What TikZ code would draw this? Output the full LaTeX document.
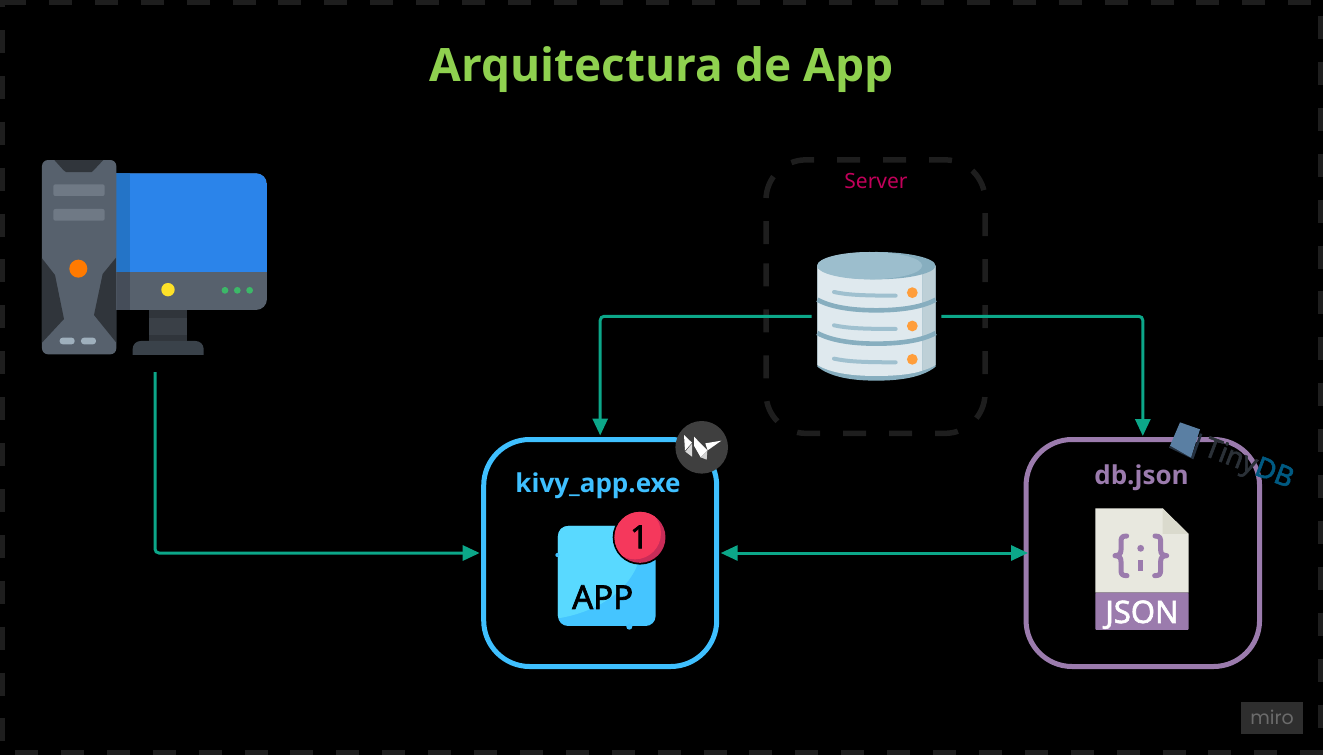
\documentclass[tikz,border=0pt]{standalone}
\usepackage{fontspec}
\setmainfont{Open Sans}
\newfontfamily\notofont{Noto Sans}
\newfontfamily\notoheavy{Noto Sans}[FakeBold=2]
\newfontfamily\mirofont{Poppins}
\usetikzlibrary{arrows.meta}
\definecolor{titlegreen}{HTML}{8FD14F}
\definecolor{kivyblue}{HTML}{3FC0FF}
\definecolor{jsonpurple}{HTML}{9B7BAD}
\definecolor{linkgreen}{HTML}{0CA789}
\definecolor{dashgrey}{HTML}{1E1E1E}
\definecolor{servertext}{HTML}{C2005A}
\definecolor{pcgrey}{HTML}{57616D}
\definecolor{pcdark}{HTML}{30353B}
\definecolor{dbpale}{HTML}{DFE9EE}
\definecolor{dbside}{HTML}{BED0D7}
\definecolor{dbtop}{HTML}{9CBECD}
\definecolor{dbband}{HTML}{87AEBF}
\definecolor{dborange}{HTML}{FF9E3B}
\tikzset{
  txt/.style={inner sep=0pt,anchor=base},
  link/.style={draw=linkgreen,line width=3pt,rounded corners=4pt},
  tip/.style={-{Triangle[length=17pt,width=15pt]}},
  bitips/.style={{Triangle[length=17pt,width=15pt]}-{Triangle[length=17pt,width=15pt]}},
  appbox/.style={draw,line width=5pt,rounded corners=46pt,fill=black,inner sep=0pt},
  edge dash/.style={draw=dashgrey,line width=5.5pt,dash pattern=on 23pt off 22.9pt},
}
\begin{document}
\begin{tikzpicture}[x=1pt,y=-1pt]
\useasboundingbox (0,0) rectangle (1323,755);
\clip (0,0) rectangle (1323,755);
\fill[black] (0,0) rectangle (1323,755);
% canvas border
\draw[edge dash] (3,2.5) -- (1323,2.5);
\draw[edge dash] (15,752.5) -- (1323,752.5);
\draw[edge dash] (2.5,-16) -- (2.5,755);
\draw[edge dash] (1320.5,16) -- (1320.5,755);
% title
\node[txt,text=titlegreen,font=\fontsize{46}{50}\selectfont\bfseries] (title) at (661.5,81) {Arquitectura de App};
% server frame
\node[outer sep=0pt,minimum width=219pt,minimum height=273.5pt,inner sep=0pt] (serverbox) at (875.5,296.6) {};
\draw[draw=dashgrey,line width=5.5pt,rounded corners=40pt,dash pattern=on 23pt off 23pt,dash phase=33.4pt] (serverbox.west) -- (serverbox.north west) -- (serverbox.north east) -- (serverbox.south east) -- (serverbox.south west) -- cycle;
\node[txt,text=servertext,font=\notofont\fontsize{21}{24}\selectfont] (serverlabel) at (876,188) {Server};
% boxes
\node[appbox,draw=kivyblue,minimum width=233pt,minimum height=227pt,outer sep=4pt] (kivy) at (600.2,553) {};
\node[appbox,draw=jsonpurple,minimum width=233.5pt,minimum height=227pt,outer sep=3.5pt] (json) at (1142.8,553) {};
\node[txt,text=kivyblue,font=\fontsize{26}{30}\selectfont\bfseries] (kivylabel) at (598,492) {kivy\_app.exe};
\node[txt,text=jsonpurple,font=\fontsize{26}{30}\selectfont\bfseries] (jsonlabel) at (1141.5,484) {db.json};
% anchors of icons
\node[inner sep=0pt,outer xsep=5.7pt,outer ysep=0pt,minimum width=118.4pt,minimum height=129pt] (db) at (876.5,316.3) {};
\coordinate (pcout) at (155,372);
% connectors
\draw[link,tip] (pcout) |- (kivy.west);
\draw[link,tip] (db.west) -| (kivy.north);
\draw[link,tip] (db.east) -| (json.north);
\draw[link,bitips,shorten >=-5.5pt] (kivy.east) -- (json.west);
% PC icon
\begin{scope}[shift={(20,150)},x=0.3333pt,y=-0.3333pt]
  \fill[pcgrey,rounded corners=11pt] (250,70) -- (741,70) -- (741,480) -- (250,480) -- cycle;
  \fill[pcdark!75!pcgrey] (388,480) rectangle (500,575);
  \fill[pcdark] (388,480) rectangle (500,503);
  \fill[pcdark] (388,555) rectangle (500,575);
  \begin{scope}
    \clip (330,560) rectangle (560,613);
    \fill[color={rgb,255:red,58;green,66;blue,74},rounded corners=8pt] (338,650) -- (338,573) -- (551,573) -- (551,650) -- cycle;
  \end{scope}
  \begin{scope}
    \clip[rounded corners=11pt] (250,70) -- (741,70) -- (741,480) -- (250,480) -- cycle;
    \fill[color={rgb,255:red,43;green,132;blue,234}] (250,70) rectangle (741,365);
    \fill[color={rgb,255:red,36;green,116;blue,199}] (250,70) rectangle (329,365);
    \fill[color={rgb,255:red,69;green,77;blue,89}] (250,365) rectangle (329,480);
  \end{scope}
  \fill[color={rgb,255:red,253;green,225;blue,40}] (444,419) circle[radius=6.7pt];
  \foreach \gx in {615,652,689} \fill[color={rgb,255:red,60;green,184;blue,104}] (\gx,421) circle[radius=3.4pt];
  \fill[pcgrey,rounded corners=6pt] (66,30) rectangle (289,613);
  \begin{scope}
    \clip[rounded corners=6pt] (66,30) rectangle (289,613);
    \fill[pcdark] (103,30) -- (250,30) -- (220,62) -- (215,66) -- (138,66) -- (130,60) -- cycle;
    \fill[pcdark] (66,325) -- (105,375) -- (132,507) -- (66,578) -- cycle;
    \fill[pcdark] (289,322) -- (248,372) -- (222,495) -- (289,578) -- cycle;
  \end{scope}
  \fill[color={rgb,255:red,111;green,121;blue,133},rounded corners=2pt] (100,103) rectangle (254,138);
  \fill[color={rgb,255:red,111;green,121;blue,133},rounded corners=2pt] (100,177) rectangle (254,212);
  \fill[color={rgb,255:red,255;green,122;blue,0}] (175,356) circle[radius=9pt];
  \fill[color={rgb,255:red,159;green,176;blue,189},rounded corners=3pt] (119,563) rectangle (164,583);
  \fill[color={rgb,255:red,159;green,176;blue,189},rounded corners=3pt] (183,563) rectangle (228,583);
\end{scope}
% database icon
\begin{scope}[shift={(750,150)},x=0.3333pt,y=-0.3333pt]
  \fill[dbband] (202,347) -- (202,650) .. controls (240,680) and (300,692) .. (379,692) .. controls (458,692) and (520,680) .. (557,650) -- (557,347) -- cycle;
  \fill[dbpale] (202,347) -- (202,645) .. controls (240,668) and (300,678) .. (379,678) .. controls (440,678) and (490,672) .. (517,662) -- (517,347) -- cycle;
  \fill[dbside] (517,347) -- (517,662) .. controls (530,658) and (545,653) .. (557,645) -- (557,347) -- cycle;
  \fill[dbband] (379,347) ellipse[x radius=177.5,y radius=41];
  \begin{scope}
    \clip (202,300) rectangle (517,400);
    \fill[dbtop] (359,347) ellipse[x radius=157.5,y radius=41];
  \end{scope}
  \foreach \by in {0,100} {
    \draw[dbband,line width=4.6pt] (202,449+\by) .. controls (240,470+\by) and (300,481+\by) .. (379,481+\by) .. controls (458,481+\by) and (520,470+\by) .. (557,449+\by);
  }
  \foreach \ly in {0,100,200} {
    \draw[color={rgb,255:red,159;green,192;blue,207},line width=4pt,line cap=round] (252,426+\ly) .. controls (290,434+\ly) and (330,437+\ly) .. (437,437+\ly);
    \fill[dborange] (487,428+\ly) circle[radius=5.4pt];
  }
\end{scope}
% kivy logo
\fill[color={rgb,255:red,63;green,63;blue,63}] (701.7,447.3) circle[radius=26.3pt];
\begin{scope}[shift={(670,415)},x=0.3333pt,y=-0.3333pt]
  \fill[white] (42,60) -- (66,83) -- (45,107) -- cycle;
  \fill[white!85!black] (46,110) -- (66,86) -- (66,125) -- cycle;
  \fill[white] (72,65) -- (112,106) -- (92,127) -- (72,92) -- cycle;
  \fill[white!82!black] (92,127) -- (112,106) -- (110,134) -- cycle;
  \fill[white] (106,85) -- (154,77) -- (113,106) -- cycle;
\end{scope}
% app icon
\begin{scope}[shift={(470,410)},x=0.3333pt,y=-0.3333pt]
  \fill[color={rgb,255:red,69;green,197;blue,255},rounded corners=10pt] (264,348) rectangle (557,648);
  \begin{scope}
    \clip[rounded corners=10pt] (264,348) rectangle (557,648);
    \fill[color={rgb,255:red,89;green,217;blue,255}] (264,348) -- (520,348) -- (500,470) .. controls (460,560) and (360,610) .. (264,625) -- cycle;
  \end{scope}
  \fill[kivyblue] (262,435) circle[radius=2pt];
  \fill[kivyblue] (478,650) circle[radius=3pt];
  \fill[black] (510,382) circle[radius=27.3pt];
  \fill[color={rgb,255:red,201;green,44;blue,88}] (510,382) circle[radius=25.5pt];
  \begin{scope}
    \clip (510,382) circle[radius=25.5pt];
    \fill[color={rgb,255:red,245;green,56;blue,92}] (495,370) circle[radius=26pt];
  \end{scope}
  \node[txt,text=black,font=\notoheavy\fontsize{33}{36}\selectfont] (apptext) at (398,597) {APP};
  \node[txt,text=black,font=\notoheavy\fontsize{32}{36}\selectfont] (badge) at (508,415) {1};
\end{scope}
% json icon
\begin{scope}[shift={(1015,410)},x=0.3333pt,y=-0.3333pt]
  \fill[color={rgb,255:red,232;green,232;blue,223}] (241,295) -- (443,295) -- (521,372) -- (521,548) -- (241,548) -- cycle;
  \fill[color={rgb,255:red,218;green,218;blue,205}] (443,295) -- (521,372) -- (443,372) -- cycle;
  \fill[jsonpurple,rounded corners=1pt] (241,548) rectangle (521,660);
  \draw[jsonpurple,line width=5pt,line join=round,line cap=round] (335,378) .. controls (318,378) and (318,385) .. (318,400) -- (318,420) .. controls (318,432) and (312,436) .. (300,437) .. controls (312,438) and (318,442) .. (318,454) -- (318,480) .. controls (318,494) and (322,497) .. (336,497);
  \draw[jsonpurple,line width=5pt,line join=round,line cap=round] (420,378) .. controls (437,378) and (437,385) .. (437,400) -- (437,420) .. controls (437,432) and (443,436) .. (455,437) .. controls (443,438) and (437,442) .. (437,454) -- (437,480) .. controls (437,494) and (433,497) .. (419,497);
  \fill[jsonpurple] (377,415) circle[radius=3.4pt];
  \fill[jsonpurple] (370,450) rectangle (385,482);
  \node[txt,text=white,font=\notoheavy\fontsize{31}{34}\selectfont] (jsontext) at (381,639) {JSON};
\end{scope}
% TinyDB logo
\begin{scope}[shift={(1165,415)},x=0.3333pt,y=-0.3333pt]
  \fill[color={rgb,255:red,37;green,49;blue,64}] (15,92) -- (78,128) -- (105,55) -- (112,57) -- (85,133) -- (12,98) -- cycle;
  \fill[color={rgb,255:red,90;green,127;blue,163}] (45,22) -- (105,43) -- (78,128) -- (15,92) -- cycle;
  \node[inner sep=0pt,rotate=-21,font=\notoheavy\fontsize{28}{30}\selectfont] (tinydb) at (250,150) {\textcolor[HTML]{2B3138}{Tiny}\textcolor[HTML]{005A82}{DB}};
\end{scope}
% miro badge
\node[fill=white!18!black,minimum width=62pt,minimum height=32pt,inner sep=0pt] (mirobadge) at (1272,718) {};
\node[inner sep=0pt,text=white!42!black,font=\mirofont\fontsize{19}{22}\selectfont] (mirotext) at (1272,717) {miro};
\end{tikzpicture}
\end{document}
